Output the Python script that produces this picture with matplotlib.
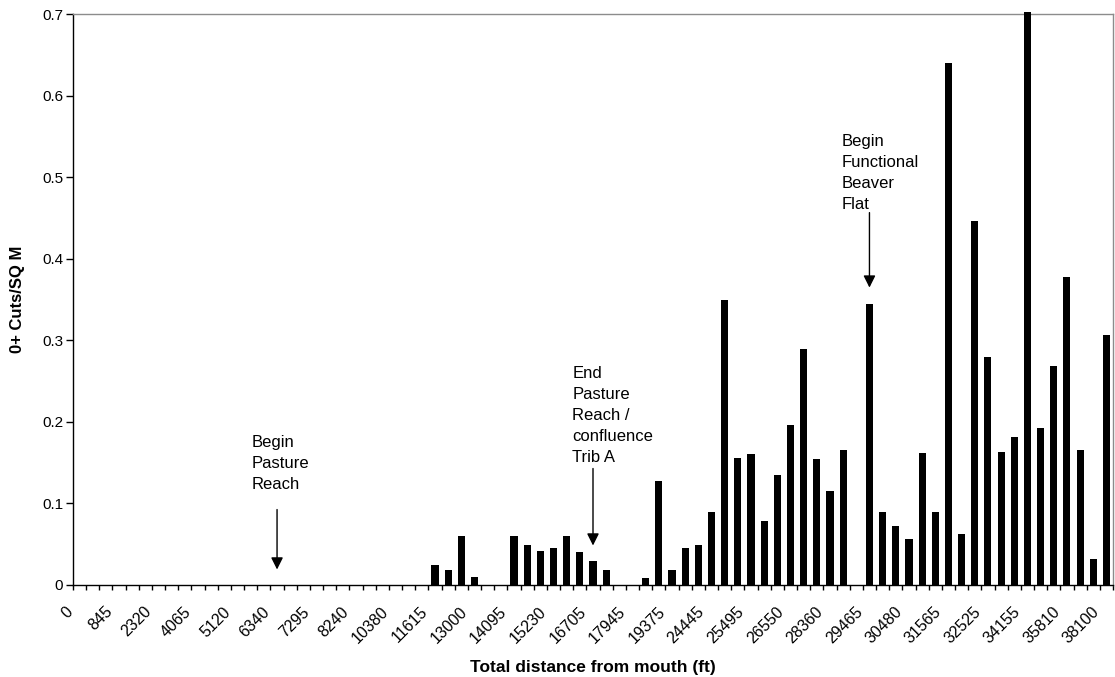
import matplotlib
matplotlib.use("Agg")
import matplotlib.pyplot as plt
from matplotlib.ticker import FixedLocator, FuncFormatter
from matplotlib.transforms import ScaledTranslation

plt.rcParams["font.family"] = ["Liberation Sans", "DejaVu Sans"]

# 0+ cuts per square metre for each survey station (79 stations, upstream order)
values = [
    0, 0, 0, 0, 0, 0, 0, 0, 0, 0,
    0, 0, 0, 0, 0, 0, 0, 0, 0, 0,
    0, 0, 0, 0, 0, 0, 0, 0.024, 0.018, 0.060,
    0.010, 0, 0, 0.060, 0.049, 0.042, 0.045, 0.060, 0.041, 0.030,
    0.019, 0, 0, 0.009, 0.128, 0.019, 0.045, 0.049, 0.090, 0.350,
    0.156, 0.160, 0.079, 0.135, 0.196, 0.289, 0.154, 0.115, 0.166, 0,
    0.345, 0.089, 0.072, 0.057, 0.162, 0.090, 0.640, 0.062, 0.446, 0.279,
    0.163, 0.182, 0.703, 0.192, 0.269, 0.377, 0.165, 0.032, 0.307,
]

# Distance labels shown on every third station
tick_labels = [
    "0", "845", "2320", "4065", "5120", "6340", "7295", "8240", "10380",
    "11615", "13000", "14095", "15230", "16705", "17945", "19375", "24445",
    "25495", "26550", "28360", "29465", "30480", "31565", "32525", "34155",
    "35810", "38100",
]
label_step = 3

# Reach markers: (station index, text)
markers = [
    (15, "Begin\nPasture\nReach"),
    (39, "End\nPasture\nReach /\nconfluence\nTrib A"),
    (60, "Begin\nFunctional\nBeaver\nFlat"),
]

fig = plt.figure(figsize=(11.15, 6.77), dpi=100)
ax = fig.add_axes([73 / 1115, 1 - 585 / 677, 1040 / 1115, 571 / 677])

n = len(values)
x = list(range(n))
ax.bar(x, values, width=0.54, color="black", clip_on=False, zorder=3)

ax.set_xlim(-0.5, n - 0.5)
ax.set_ylim(0, 0.7)

# y axis
ax.set_yticks([i / 10 for i in range(8)])
ax.yaxis.set_major_formatter(FuncFormatter(lambda v, p: "0" if v == 0 else f"{v:.1f}"))
ax.tick_params(axis="y", direction="out", length=5, width=1, pad=2, labelsize=11)

# x axis: tick marks between stations, labels on every third station
ax.xaxis.set_major_locator(FixedLocator([i - 0.5 for i in range(n + 1)]))
ax.xaxis.set_major_formatter(FuncFormatter(lambda v, p: ""))
label_pos = list(range(0, n, label_step))
ax.xaxis.set_minor_locator(FixedLocator(label_pos))
ax.set_xticklabels(tick_labels, minor=True)
ax.tick_params(axis="x", which="major", direction="out", length=3.6, width=1)
ax.tick_params(axis="x", which="minor", length=0, pad=17.5, labelsize=11.5)
shift = ScaledTranslation(-9.5 / 100, 0, fig.dpi_scale_trans)
for lab in ax.get_xticklabels(minor=True):
    lab.set_rotation(45)
    lab.set_ha("right")
    lab.set_va("center")
    lab.set_rotation_mode("anchor")
    lab.set_transform(lab.get_transform() + shift)

for side in ("left", "bottom"):
    ax.spines[side].set_color("black")
    ax.spines[side].set_linewidth(1)
for side in ("top", "right"):
    ax.spines[side].set_color("#8c8c8c")
    ax.spines[side].set_linewidth(1)

ax.set_xlabel("Total distance from mouth (ft)", fontsize=12.5, fontweight="bold")
ax.xaxis.set_label_coords(0.5, -0.131)
ax.set_ylabel("0+ Cuts/SQ M", fontsize=12, fontweight="bold")
ax.yaxis.set_label_coords(-0.046, 0.5)

# Annotation layout in data units
arrow_spans = [(0.0925, 0.019), (0.1428, 0.0484), (0.4565, 0.3646)]
text_anchor = [(13.07, 0.1489), (37.43, 0.2074), (57.91, 0.5049)]
for (idx, txt), (y0, y1), (tx, ty) in zip(markers, arrow_spans, text_anchor):
    ax.annotate("", xy=(idx, y1), xytext=(idx, y0),
                arrowprops=dict(arrowstyle="-|>", color="black", lw=1,
                                mutation_scale=18, shrinkA=0, shrinkB=0),
                annotation_clip=False, zorder=4)
    ax.text(tx, ty, txt, ha="left", va="center", fontsize=12,
            linespacing=1.5, zorder=4)

fig.savefig("out.png", dpi=100)
